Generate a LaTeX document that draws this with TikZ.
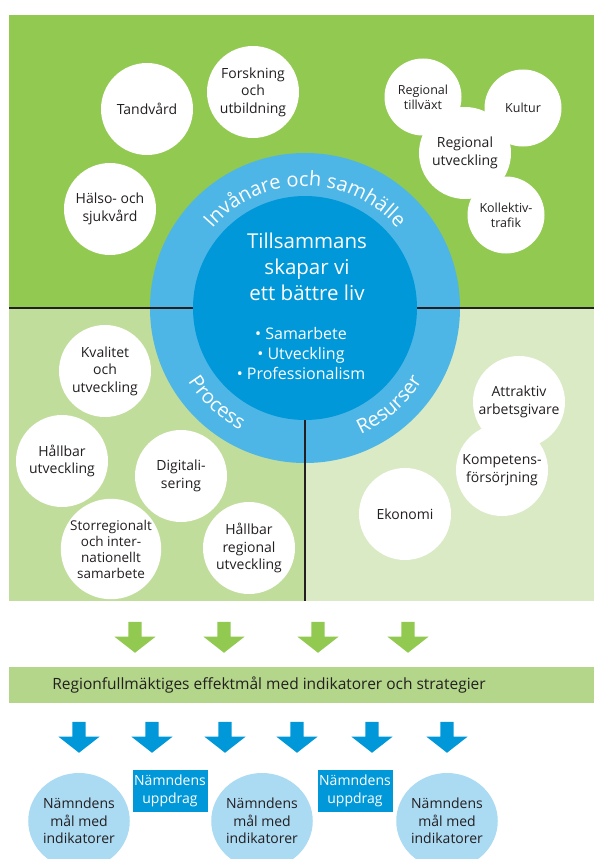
\documentclass[tikz,border=0pt]{standalone}
\usepackage{fontspec}
\setmainfont{Open Sans}
\usepackage{tikz}
\usetikzlibrary{positioning, shapes.geometric, shapes.arrows, decorations.text}

\definecolor{topgreen}{RGB}{146,201,80}
\definecolor{procgreen}{RGB}{192,221,155}
\definecolor{resgreen}{RGB}{217,234,197}
\definecolor{bannergreen}{RGB}{179,214,138}
\definecolor{ringblue}{RGB}{77,182,230}
\definecolor{coreblue}{RGB}{0,152,216}
\definecolor{paleblue}{RGB}{171,218,243}
\definecolor{ink}{RGB}{35,31,32}

\newcommand{\ringfont}{\fontsize{20}{20}\selectfont\color{white}}

\begin{document}
\begin{tikzpicture}[x=1pt, y=1pt,
    bubble/.style={circle, fill=white, minimum size=92pt, inner sep=0pt, align=center, text=ink, font=\fontsize{14}{17.5}\selectfont},
    small bubble/.style={bubble, minimum size=77pt, font=\fontsize{12.5}{15}\selectfont},
    divider/.style={draw=ink, line width=1.5pt},
    blockarrow/.style={single arrow, shape border rotate=270, inner sep=0pt, text width=13pt, text height=0pt, text depth=0pt, minimum height=31pt, single arrow head extend=14pt, single arrow tip angle=104, anchor=tip},
    task/.style={rectangle, fill=coreblue, text=white, minimum width=75pt, minimum height=42pt, inner sep=0pt, align=center, font=\fontsize{14}{17.5}\selectfont},
    goal/.style={ellipse, fill=paleblue, minimum width=83pt, minimum height=96pt, inner sep=0pt, align=center, text=ink, font=\fontsize{14}{17.5}\selectfont}
]
    \useasboundingbox (0,0) rectangle (594,-859);
    \clip (0,0) rectangle (594,-859);

    % Panels
    \fill[topgreen] (9,-15) rectangle (594,-308);
    \fill[procgreen] (9,-308) rectangle (305,-601);
    \fill[resgreen] (305,-308) rectangle (594,-601);
    \coordinate (lmid) at (9,-308);
    \coordinate (rmid) at (594,-308);
    \coordinate (bmid) at (305,-601);

    % Wheel
    \node[circle, fill=ringblue, minimum size=310pt, inner sep=0pt] (ring) at (305,-308) {};
    \draw[divider] (lmid) -- (ring.center);
    \draw[divider] (ring.center) -- (rmid);
    \draw[divider] (ring.center) -- (bmid);
    \node[circle, fill=coreblue, minimum size=224pt, inner sep=0pt] (core) at (ring.center) {};

    \node[align=center, text=white, font=\fontsize{20.5}{26}\selectfont] (motto) at (307,-267) {Tillsammans\\skapar vi\\ett bättre liv};
    \node[align=center, text=white, font=\fontsize{16}{20}\selectfont] (values) at (301,-353) {\textbullet\ Samarbete\\\textbullet\ Utveckling\\\textbullet\ Professionalism};

    \path[decorate, decoration={text along path, text align=center, text={|\ringfont|Invånare och samhälle}}]
        ([shift={(160:122)}]ring.center) arc[start angle=160, end angle=20, radius=122];
    \path[decorate, decoration={text along path, text align=center, text={|\ringfont|Process}}]
        ([shift={(190:138)}]ring.center) arc[start angle=190, end angle=264, radius=138];
    \path[decorate, decoration={text along path, text align=center, text={|\ringfont|Resurser}}]
        ([shift={(276:138)}]ring.center) arc[start angle=276, end angle=346, radius=138];

    % Invånare och samhälle
    \node[bubble] (tandvard) at (147,-109) {Tandvård};
    \node[bubble] (forskning) at (253,-92) {Forskning\\och\\utbildning};
    \node[bubble] (halso) at (110,-209) {Hälso- och\\sjukvård};
    \node[bubble] (regutv) at (465,-153) {Regional\\utveckling};
    \node[small bubble] (tillvaxt) at (423,-97) {Regional\\tillväxt};
    \node[small bubble] (kultur) at (523,-108) {Kultur};
    \node[small bubble] (kollektiv) at (506,-215) {Kollektiv-\\trafik};

    % Process
    \node[bubble] (kvalitet) at (105,-371) {Kvalitet\\och\\utveckling};
    \node[bubble] (hallbar) at (62,-461) {Hållbar\\utveckling};
    \node[bubble] (digital) at (181,-476) {Digitali-\\sering};
    \node[bubble, font=\fontsize{13.5}{16}\selectfont] (storreg) at (111,-549) {Storregionalt\\och inter-\\nationellt\\samarbete};
    \node[bubble] (hallreg) at (249,-548) {Hållbar\\regional\\utveckling};

    % Resurser
    \node[bubble] (attraktiv) at (519,-402) {Attraktiv\\arbetsgivare};
    \node[bubble] (kompetens) at (502,-470) {Kompetens-\\försörjning};
    \node[bubble] (ekonomi) at (405,-514) {Ekonomi};

    % Effektmål
    \foreach \x [count=\i] in {135,224,318,408}
        \node[blockarrow, fill=topgreen] (ga\i) at (\x,-653) {};
    \fill[bannergreen] (9,-667) rectangle (594,-703);
    \node[text=ink, font=\fontsize{15.5}{18}\selectfont] (effekt) at (269,-685) {Regionfullmäktiges effektmål med indikatorer och strategier};

    % Nämnder
    \foreach \x [count=\i] in {79,152,225,297,372,447}
        \node[blockarrow, fill=coreblue] (ba\i) at (\x,-753) {};
    \node[goal] (mal1) at (79,-821) {Nämndens\\mål med\\indikatorer};
    \node[task] (uppdrag1) at (170,-791) {Nämndens\\uppdrag};
    \node[goal] (mal2) at (262,-821) {Nämndens\\mål med\\indikatorer};
    \node[task] (uppdrag2) at (355,-791) {Nämndens\\uppdrag};
    \node[goal] (mal3) at (447,-821) {Nämndens\\mål med\\indikatorer};
\end{tikzpicture}
\end{document}
